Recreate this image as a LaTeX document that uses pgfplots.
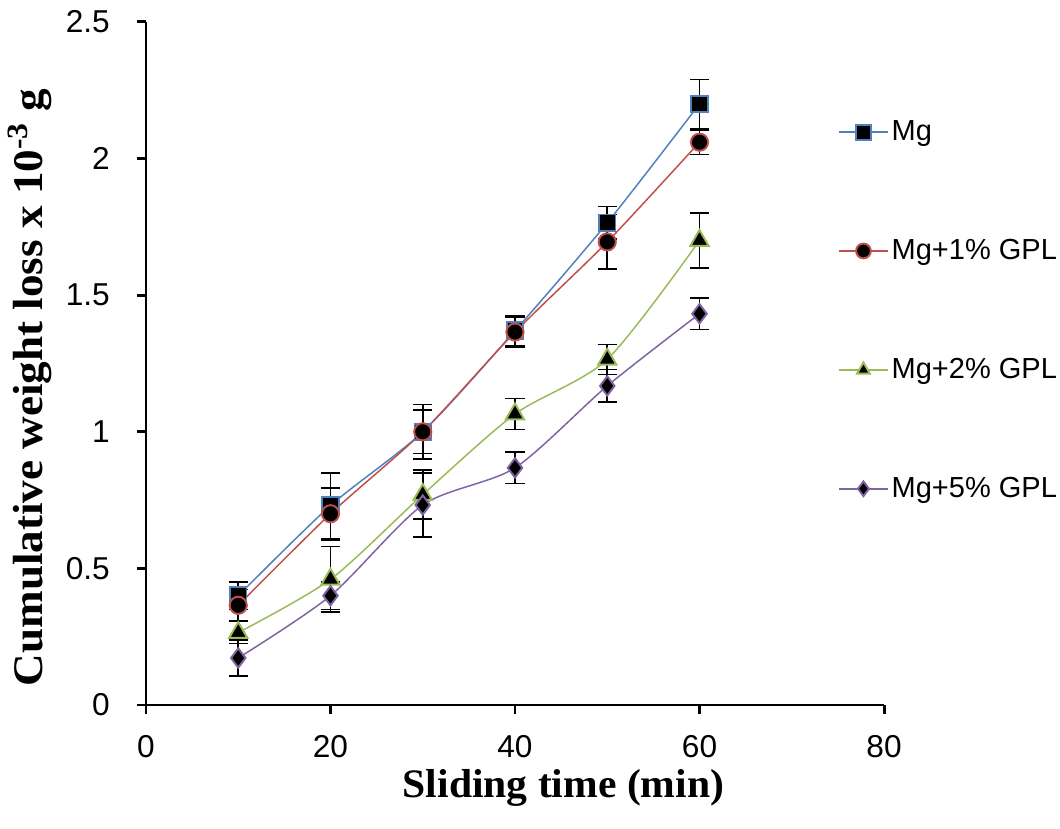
\documentclass[border=0pt]{standalone}
\usepackage{fontspec}
\setmainfont{Liberation Sans}
\newfontfamily\tnr{Liberation Serif}
\usepackage{pgfplots}
\pgfplotsset{compat=1.18}

\definecolor{cMg}{HTML}{4F81BD}
\definecolor{cOne}{HTML}{C0504D}
\definecolor{cTwo}{HTML}{9BBB59}
\definecolor{cFive}{HTML}{8064A2}

\pgfplotsset{
  wl/.style={#1, line width=0.85pt, smooth, tension=0.45,
    mark options={fill=black, draw=#1, line width=1.1pt, solid},
    error bars/y dir=both, error bars/y explicit,
    error bars/error bar style={black, line width=0.9pt},
    error bars/error mark options={rotate=90, mark size=5.5pt, black, line width=0.9pt}},
}

\begin{document}
\begin{tikzpicture}
\begin{axis}[name=main,
  scale only axis, width=14.76cm, height=13.66cm,
  xmin=0, xmax=80, ymin=0, ymax=2.5,
  xtick={0,20,40,60,80}, ytick={0,0.5,1,1.5,2,2.5},
  axis lines*=left, axis line style={line width=1.7pt, -},
  tick align=outside, major tick length=0.18cm,
  tick style={line width=1.7pt, black},
  /pgf/number format/assume math mode=true,
  ticklabel style={font=\fontsize{18}{21}\selectfont},
  yticklabel style={/pgf/number format/fixed, /pgf/number format/precision=1, xshift=-0.42cm},
  xticklabel style={yshift=-0.3cm},
  xlabel={\tnr\bfseries\fontsize{23}{27}\selectfont\scalebox{1.03}[1]{Sliding time (min)}},
  ylabel={\tnr\bfseries\fontsize{24}{28}\selectfont\scalebox{1.07}[1]{Cumulative weight loss x 10\textsuperscript{-3} g}},
  xlabel style={at={(axis description cs:0.5657,0)}, anchor=base, yshift=-1.84cm},
  ylabel style={at={(axis description cs:0,0.465)}, anchor=base, yshift=2.06cm},
  legend style={draw=none, fill=none, overlay, at={(0.931,0.866)}, anchor=north west,
    font=\fontsize{16.5}{19}\selectfont, row sep=1.78cm},
  legend cell align=left,
  legend image code/.code={\draw[mark repeat=2, mark phase=2, mark size=4.2pt] plot coordinates {(0cm,0cm)(0.48cm,0cm)(0.96cm,0cm)};},
]
\addplot[wl=cMg, mark=square*, mark size=4.7pt] coordinates {
  (10,0.40) +- (0,0.05)
  (20,0.73) +- (0,0.12)
  (30,1.00) +- (0,0.10)
  (40,1.37) +- (0,0.055)
  (50,1.765) +- (0,0.06)
  (60,2.20) +- (0,0.09)
};
\addlegendentry{Mg}
\addplot[wl=cOne, mark=*, mark size=4.9pt] coordinates {
  (10,0.365) +- (0,0.057)
  (20,0.70) +- (0,0.095)
  (30,1.00) +- (0,0.08)
  (40,1.365) +- (0,0.055)
  (50,1.695) +- (0,0.10)
  (60,2.06) +- (0,0.045)
};
\addlegendentry{Mg+1\% GPL}
\addplot[wl=cTwo, mark=triangle*, mark size=6pt] coordinates {
  (10,0.265) +- (0,0.04)
  (20,0.46) +- (0,0.12)
  (30,0.77) +- (0,0.09)
  (40,1.065) +- (0,0.057)
  (50,1.265) +- (0,0.055)
  (60,1.70) +- (0,0.10)
};
\addlegendentry{Mg+2\% GPL}
\addplot[wl=cFive, mark=diamond*, mark size=5.5pt] coordinates {
  (10,0.172) +- (0,0.066)
  (20,0.40) +- (0,0.05)
  (30,0.732) +- (0,0.117)
  (40,0.868) +- (0,0.057)
  (50,1.168) +- (0,0.06)
  (60,1.432) +- (0,0.057)
};
\addlegendentry{Mg+5\% GPL}
\end{axis}
\path (main.south west) ++(-2.92cm,-2.48cm) rectangle ++(21.2cm,16.58cm);
\end{tikzpicture}
\end{document}
